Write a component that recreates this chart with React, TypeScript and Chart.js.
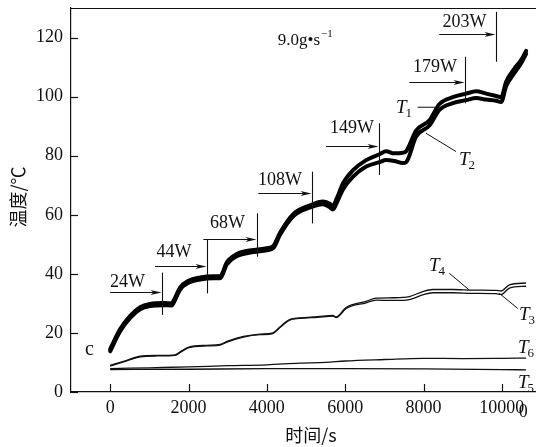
import React, { useEffect, useRef } from "react";
import { Chart, registerables } from "chart.js";

Chart.register(...registerables);

// ---- axes ----
const X_MIN = -1000;
const X_MAX = 11000;
const Y_MIN = 0;
const Y_MAX = 130;
const X_TICKS = [0, 2000, 4000, 6000, 8000, 10000];
const Y_TICKS = [0, 20, 40, 60, 80, 100, 120];
const X_TITLE = "时间/s";
const Y_TITLE = "温度/℃";

// ---- series (time in s, temperature in °C) ----
const T1_TIME = [0, 255, 511, 766, 1021, 1361, 1575, 1617, 1787, 1999, 2298, 2638, 2808, 2979, 3234, 3659, 4000, 4170, 4340, 4680, 5106, 5430, 5600, 5685, 5800, 5940, 6196, 6536, 6876, 7046, 7250, 7472, 7557, 7812, 8152, 8407, 8748, 9088, 9344, 9600, 9855, 9982, 10110, 10322, 10500, 10620];
const T1_TEMP = [14.5, 21.3, 25.8, 28.7, 29.8, 30.1, 30.0, 30.8, 35.4, 37.7, 38.8, 39.2, 39.2, 43.9, 46.7, 48.1, 48.7, 49.5, 54.0, 60.3, 63.2, 64.5, 63.8, 63.0, 66.0, 70.5, 75.0, 78.5, 80.5, 81.5, 80.8, 81.0, 81.5, 88.5, 92.0, 97.5, 99.8, 101.0, 101.8, 101.0, 100.2, 99.8, 105.0, 109.5, 112.5, 115.5];
const T2_TIME = [0, 255, 511, 766, 1021, 1361, 1575, 1617, 1787, 1999, 2298, 2638, 2808, 2979, 3234, 3659, 4000, 4170, 4340, 4680, 5106, 5430, 5600, 5685, 5800, 5940, 6196, 6536, 6876, 7046, 7250, 7472, 7557, 7812, 8152, 8407, 8748, 9088, 9344, 9600, 9855, 9982, 10110, 10322, 10500, 10620];
const T2_TEMP = [13.8, 20.6, 25.1, 28.0, 29.1, 29.4, 29.3, 30.1, 34.7, 37.0, 38.1, 38.5, 38.5, 43.2, 46.0, 47.4, 48.0, 48.8, 53.3, 59.6, 62.5, 63.6, 62.6, 61.8, 64.5, 68.5, 72.8, 76.3, 77.8, 78.5, 78.2, 77.5, 77.8, 86.5, 90.2, 95.5, 97.8, 98.8, 99.5, 99.0, 98.6, 98.2, 103.5, 108.0, 111.5, 114.5];
const T3_TIME = [0, 300, 766, 1200, 1660, 1800, 2009, 2468, 2808, 3000, 3404, 3829, 4154, 4350, 4578, 4834, 5300, 5685, 5770, 6025, 6536, 6791, 7217, 7642, 8000, 8238, 8748, 9259, 9855, 9982, 10195, 10620];
const T3_TEMP = [8.8, 10.0, 11.9, 12.2, 12.4, 13.5, 15.0, 15.6, 15.9, 17.0, 18.6, 19.4, 19.8, 22.0, 24.3, 24.9, 25.3, 25.7, 25.2, 28.3, 30.2, 31.1, 31.0, 31.3, 33.0, 33.6, 33.6, 33.4, 33.3, 33.0, 35.2, 35.8];
const T4_TIME = [0, 300, 766, 1200, 1660, 1800, 2009, 2468, 2808, 3000, 3404, 3829, 4154, 4350, 4578, 4834, 5300, 5685, 5770, 6025, 6536, 6791, 7217, 7642, 8000, 8238, 8748, 9259, 9855, 9982, 10195, 10620];
const T4_TEMP = [9.0, 10.2, 12.1, 12.4, 12.6, 13.7, 15.2, 15.8, 16.1, 17.2, 18.8, 19.6, 20.0, 22.2, 24.5, 25.1, 25.5, 25.9, 25.4, 28.6, 30.7, 31.8, 31.9, 32.3, 34.1, 34.7, 34.7, 34.5, 34.4, 34.2, 36.3, 36.9];
const T5_TIME = [0, 2000, 4000, 6000, 8000, 10000, 10620];
const T5_TEMP = [7.6, 7.7, 7.9, 7.9, 7.8, 7.6, 7.5];
const T6_TIME = [0, 1000, 2000, 3000, 4000, 4834, 5500, 6000, 7000, 8000, 9000, 10000, 10620];
const T6_TEMP = [7.9, 8.2, 8.5, 8.9, 9.2, 9.8, 10.0, 10.5, 11.0, 11.4, 11.3, 11.4, 11.5];

// ---- heating power steps ----
const STEP_LABELS = ["24W", "44W", "68W", "108W", "149W", "179W", "203W"];
const STEP_LABEL_X = [443, 1630, 2996, 4336, 6172, 8294, 9047];
const STEP_LABEL_Y = [35.5, 45.7, 55.5, 70.1, 87.7, 108.3, 123.6];
const STEP_ARROW_FROM = [0, 1145, 2378, 3782, 5511, 7637, 8403];
const STEP_ARROW_Y = [33.75, 42.5, 51.7, 67.3, 83.4, 105.1, 121.2];
const STEP_LINE_X = [1331, 2480, 3757, 5146, 6872, 9060, 9851];
const STEP_LINE_TOP = [40.4, 51.5, 60.5, 74.6, 91.0, 113.5, 128.7];
const STEP_LINE_BOTTOM = [26.1, 33.4, 45.8, 57.1, 73.5, 97.7, 111.8];

// ---- curve labels ----
const CURVE_NAMES = ["T", "T", "T", "T", "T", "T"];
const CURVE_SUBS = ["1", "2", "3", "4", "5", "6"];
const CURVE_LABEL_X = [7298, 8906, 10438, 8140, 10413, 10413];
const CURVE_LABEL_Y = [94.5, 76.9, 24.4, 40.8, 1.35, 13.2];
const LEADER_X1 = [7852, 8064, 9935, 8659];
const LEADER_Y1 = [96.4, 87.6, 33.4, 40.2];
const LEADER_X2 = [8319, 8830, 10405, 9170];
const LEADER_Y2 = [96.4, 81.4, 28.3, 34.5];

const FLOW_TEXT = "9.0g\u2022s";
const FLOW_SUP = "\u22121";
const FLOW_X = 4277;
const FLOW_Y = 117.5;
const PANEL_TEXT = "c";
const PANEL_X = -643;
const PANEL_Y = 12.5;
const NEXT_PANEL_ZERO = "0";

const SERIF = "'Liberation Serif', 'Times New Roman', serif";
const CJK = "'Noto Sans CJK SC', sans-serif";
const INK = "#111";

const pts = (xs: number[], ys: number[]) => xs.map((x, i) => ({ x, y: ys[i] }));

const overlay = {
  id: "overlay",
  afterDatasetsDraw(chart: any) {
    const { ctx, chartArea: a, scales } = chart;
    const xs = scales.x;
    const ys = scales.y;
    const px = (v: number) => xs.getPixelForValue(v);
    const py = (v: number) => ys.getPixelForValue(v);
    const line = (x1: number, y1: number, x2: number, y2: number) => {
      ctx.beginPath();
      ctx.moveTo(x1, y1);
      ctx.lineTo(x2, y2);
      ctx.stroke();
    };
    ctx.save();
    ctx.strokeStyle = INK;
    ctx.fillStyle = INK;
    ctx.lineWidth = 1.2;
    line(a.left, a.top + 0.5, a.right, a.top + 0.5);
    X_TICKS.forEach((v) => {
      const x = Math.round(px(v)) + 0.5;
      line(x, a.bottom, x, a.bottom - 8);
    });
    Y_TICKS.forEach((v) => {
      const y = Math.round(py(v)) + 0.5;
      line(a.left, y, a.left + 7, y);
    });

    ctx.lineWidth = 1.1;
    ctx.font = `18px ${SERIF}`;
    ctx.textAlign = "center";
    ctx.textBaseline = "alphabetic";
    STEP_LABELS.forEach((lab, i) => {
      const lx = Math.round(px(STEP_LINE_X[i])) + 0.5;
      line(lx, py(STEP_LINE_TOP[i]), lx, py(STEP_LINE_BOTTOM[i]));
      const ay = Math.round(py(STEP_ARROW_Y[i])) + 0.5;
      const ax0 = px(STEP_ARROW_FROM[i]);
      const tip = lx - 1;
      line(ax0, ay, tip - 4, ay);
      ctx.beginPath();
      ctx.moveTo(tip, ay);
      ctx.lineTo(tip - 11, ay - 2.6);
      ctx.lineTo(tip - 8, ay);
      ctx.lineTo(tip - 11, ay + 2.6);
      ctx.closePath();
      ctx.fill();
      ctx.fillText(lab, px(STEP_LABEL_X[i]), py(STEP_LABEL_Y[i]));
    });

    ctx.lineWidth = 1;
    LEADER_X1.forEach((x1, i) => {
      line(px(x1), py(LEADER_Y1[i]), px(LEADER_X2[i]), py(LEADER_Y2[i]));
    });

    ctx.textAlign = "left";
    CURVE_NAMES.forEach((nm, i) => {
      const x = px(CURVE_LABEL_X[i]);
      const y = py(CURVE_LABEL_Y[i]);
      ctx.font = `italic 19px ${SERIF}`;
      ctx.fillText(nm, x, y);
      const w = ctx.measureText(nm).width;
      ctx.font = `13px ${SERIF}`;
      ctx.fillText(CURVE_SUBS[i], x + w - 1, y + 4);
    });

    ctx.font = `17px ${SERIF}`;
    const fx = px(FLOW_X);
    const fy = py(FLOW_Y);
    ctx.fillText(FLOW_TEXT, fx, fy);
    const fw = ctx.measureText(FLOW_TEXT).width;
    ctx.font = `11px ${SERIF}`;
    ctx.fillText(FLOW_SUP, fx + fw + 1, fy - 8);

    ctx.font = `20px ${SERIF}`;
    ctx.fillText(PANEL_TEXT, px(PANEL_X), py(PANEL_Y));

    ctx.font = `18px ${SERIF}`;
    ctx.fillText(NEXT_PANEL_ZERO, px(10000) + 17, a.bottom + 25);

    ctx.font = `18px ${CJK}`;
    ctx.textAlign = "center";
    ctx.textBaseline = "middle";
    ctx.fillText(X_TITLE, (a.left + a.right) / 2 + 5, a.bottom + 43);
    ctx.save();
    ctx.translate(18, (a.top + a.bottom) / 2 - 3);
    ctx.rotate(-Math.PI / 2);
    ctx.fillText(Y_TITLE, 0, 0);
    ctx.restore();

    ctx.restore();
  },
};

export default function App() {
  const ref = useRef<HTMLCanvasElement | null>(null);
  useEffect(() => {
    if (!ref.current) return;
    const thin = { pointRadius: 0, borderColor: INK, borderWidth: 1.3, cubicInterpolationMode: "monotone" as const, fill: false };
    const thick = { pointRadius: 0, borderColor: "#000", borderWidth: 4, cubicInterpolationMode: "monotone" as const, fill: false, borderJoinStyle: "round" as const, borderCapStyle: "round" as const };
    const chart = new Chart(ref.current, {
      type: "line",
      data: {
        datasets: [
          { label: "T1", data: pts(T1_TIME, T1_TEMP), ...thick },
          { label: "T2", data: pts(T2_TIME, T2_TEMP), ...thick },
          { label: "T3", data: pts(T3_TIME, T3_TEMP), ...thin },
          { label: "T4", data: pts(T4_TIME, T4_TEMP), ...thin },
          { label: "T5", data: pts(T5_TIME, T5_TEMP), ...thin },
          { label: "T6", data: pts(T6_TIME, T6_TEMP), ...thin },
        ],
      },
      options: {
        responsive: false,
        animation: false,
        devicePixelRatio: 1,
        layout: { padding: { top: 8, right: 19, left: 0, bottom: 0 } },
        plugins: { legend: { display: false }, tooltip: { enabled: false } },
        scales: {
          x: {
            type: "linear",
            min: X_MIN,
            max: X_MAX,
            afterBuildTicks: (s: any) => {
              s.ticks = X_TICKS.map((v) => ({ value: v }));
            },
            afterFit: (s: any) => {
              s.height = 55;
              s.paddingLeft = 0;
              s.paddingRight = 0;
            },
            grid: { display: false, drawTicks: false },
            border: { display: true, color: INK, width: 1.2 },
            ticks: {
              color: INK,
              padding: 5,
              maxRotation: 0,
              autoSkip: false,
              font: { family: SERIF, size: 18 },
              callback: (v: any) => String(v),
            },
          },
          y: {
            type: "linear",
            min: Y_MIN,
            max: Y_MAX,
            afterBuildTicks: (s: any) => {
              s.ticks = Y_TICKS.map((v) => ({ value: v }));
            },
            afterFit: (s: any) => {
              s.width = 71;
              s.paddingTop = 0;
              s.paddingBottom = 0;
            },
            grid: { display: false, drawTicks: false },
            border: { display: true, color: INK, width: 1.2 },
            ticks: {
              color: INK,
              padding: 8,
              autoSkip: false,
              font: { family: SERIF, size: 18 },
              callback: (v: any) => String(v),
            },
          },
        },
      },
      plugins: [overlay],
    });
    return () => chart.destroy();
  }, []);
  return (
    <canvas
      ref={ref}
      width={560}
      height={447}
      style={{ position: "fixed", left: 0, top: 0, width: 560, height: 447, background: "#fff" }}
    />
  );
}
